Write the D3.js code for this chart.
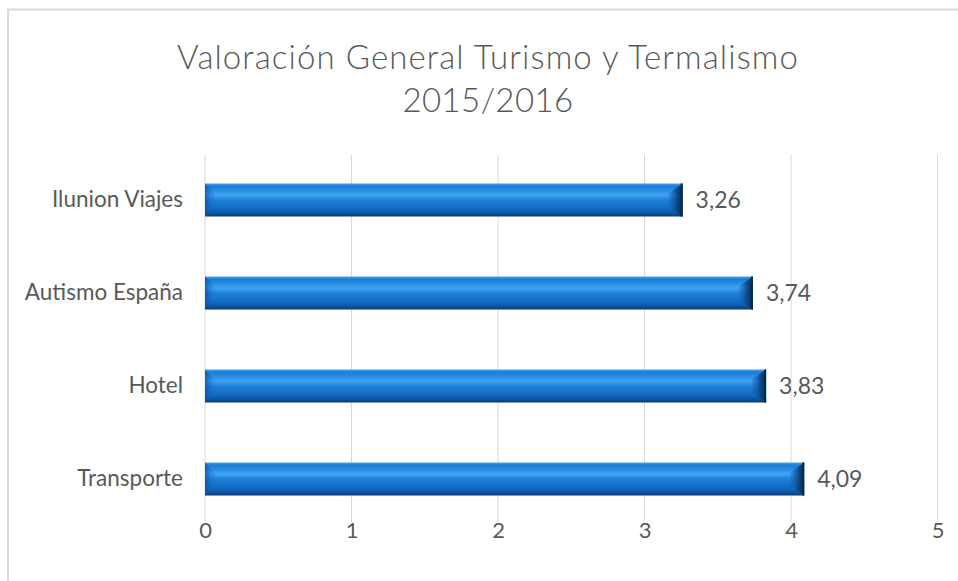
<!DOCTYPE html>
<html><head><meta charset="utf-8">
<script src="https://cdn.jsdelivr.net/npm/d3@7"></script>
<style>body{margin:0;background:#fff;}svg{display:block;}</style>
</head><body>
<script>
const categories = ["Ilunion Viajes", "Autismo España", "Hotel", "Transporte"];
const values = [3.26, 3.74, 3.83, 4.09];
const valueLabels = ["3,26", "3,74", "3,83", "4,09"];
const tickValues = [0, 1, 2, 3, 4, 5];
const titleLines = ["Valoración General Turismo y Termalismo", "2015/2016"];

const W = 958, H = 581;
const svg = d3.select("body").append("svg").attr("width", W).attr("height", H);
const font = "Lato, 'Open Sans', sans-serif";
const txt = "#595959";

// frame
svg.append("rect").attr("x", 8).attr("y", 9.5).attr("width", 1000).attr("height", 700)
  .attr("fill", "none").attr("stroke", "#d9d9d9").attr("stroke-width", 2);

// title
svg.selectAll("text.title").data(titleLines).join("text").attr("class", "title")
  .attr("x", 488).attr("y", (d, i) => 69 + i * 43)
  .attr("text-anchor", "middle").attr("font-family", font).attr("font-size", 33)
  .attr("font-weight", 300).attr("letter-spacing", (d, i) => i === 0 ? 1.1 : 0.4)
  .attr("fill", txt).text(d => d);

const x = d3.scaleLinear().domain([0, 5]).range([205, 937.5]);
const y = d3.scaleBand().domain(categories).range([153.5, 525.5]).paddingInner(0.645).paddingOuter(0.3225);

// gridlines
svg.append("g").selectAll("line").data(tickValues).join("line")
  .attr("x1", d => x(d)).attr("x2", d => x(d)).attr("y1", 155).attr("y2", 522)
  .attr("stroke", "#d9d9d9").attr("stroke-width", 1);

// x axis labels
const xAxis = d3.axisBottom(x).tickValues(tickValues).tickSize(0).tickPadding(0).tickFormat(d3.format("d"));
const gx = svg.append("g").attr("transform", "translate(0,518)").call(xAxis);
gx.select(".domain").remove();
gx.selectAll("text").attr("font-family", font).attr("font-size", 22).attr("fill", txt).attr("dy", "0.71em").attr("y", 4);

// y axis labels
const yAxis = d3.axisLeft(y).tickSize(0).tickPadding(0);
const gy = svg.append("g").attr("transform", "translate(183,0)").call(yAxis);
gy.select(".domain").remove();
gy.selectAll("text").attr("font-family", font).attr("font-size", 22.5).attr("fill", txt);

// gradients
const defs = svg.append("defs");
const vg = defs.append("linearGradient").attr("id", "vg").attr("x1", 0).attr("y1", 0).attr("x2", 0).attr("y2", 1);
[[0, "#4aa6ee"], [0.08, "#1a7cd6"], [0.22, "#2a8ee4"], [0.35, "#42a5f2"], [0.5, "#1d80da"], [0.75, "#146cc4"], [0.9, "#0d56a2"], [1, "#083a72"]]
  .forEach(s => vg.append("stop").attr("offset", s[0]).attr("stop-color", s[1]));
const lg = defs.append("linearGradient").attr("id", "lg").attr("x1", 0).attr("y1", 0).attr("x2", 1).attr("y2", 0);
lg.append("stop").attr("offset", 0).attr("stop-color", "#0b4f98").attr("stop-opacity", 0.75);
lg.append("stop").attr("offset", 1).attr("stop-color", "#1a78d2").attr("stop-opacity", 0.1);
const rg = defs.append("linearGradient").attr("id", "rg").attr("x1", 0).attr("y1", 0).attr("x2", 1).attr("y2", 0);
rg.append("stop").attr("offset", 0).attr("stop-color", "#1565b8").attr("stop-opacity", 0.3);
rg.append("stop").attr("offset", 0.6).attr("stop-color", "#0a447f").attr("stop-opacity", 0.9);
rg.append("stop").attr("offset", 1).attr("stop-color", "#06284c").attr("stop-opacity", 1);

const data = categories.map((c, i) => ({c, v: values[i], l: valueLabels[i]}));
const bars = svg.append("g").selectAll("g").data(data).join("g");
const bw = 10;
bars.append("rect").attr("x", x(0)).attr("y", d => y(d.c)).attr("width", d => x(d.v) - x(0))
  .attr("height", y.bandwidth()).attr("fill", "url(#vg)");
bars.append("path").attr("fill", "url(#lg)").attr("d", d => {
  const x0 = x(0), y0 = y(d.c), y1 = y0 + y.bandwidth();
  return `M${x0},${y0}L${x0 + bw},${y0 + bw}L${x0 + bw},${y1 - bw}L${x0},${y1}Z`;
});
bars.append("path").attr("fill", "url(#rg)").attr("d", d => {
  const x1 = x(d.v), y0 = y(d.c), y1 = y0 + y.bandwidth();
  return `M${x1},${y0}L${x1 - bw - 4},${y0 + bw}L${x1 - bw - 4},${y1 - bw}L${x1},${y1}Z`;
});
bars.append("rect").attr("x", d => x(d.v) - 2).attr("y", d => y(d.c)).attr("width", 2)
  .attr("height", y.bandwidth()).attr("fill", "#062a50");

bars.append("text").attr("x", d => x(d.v) + 13).attr("y", d => y(d.c) + y.bandwidth() / 2)
  .attr("dy", "0.35em").attr("font-family", font).attr("font-size", 23).attr("fill", txt).text(d => d.l);
</script>
</body></html>
